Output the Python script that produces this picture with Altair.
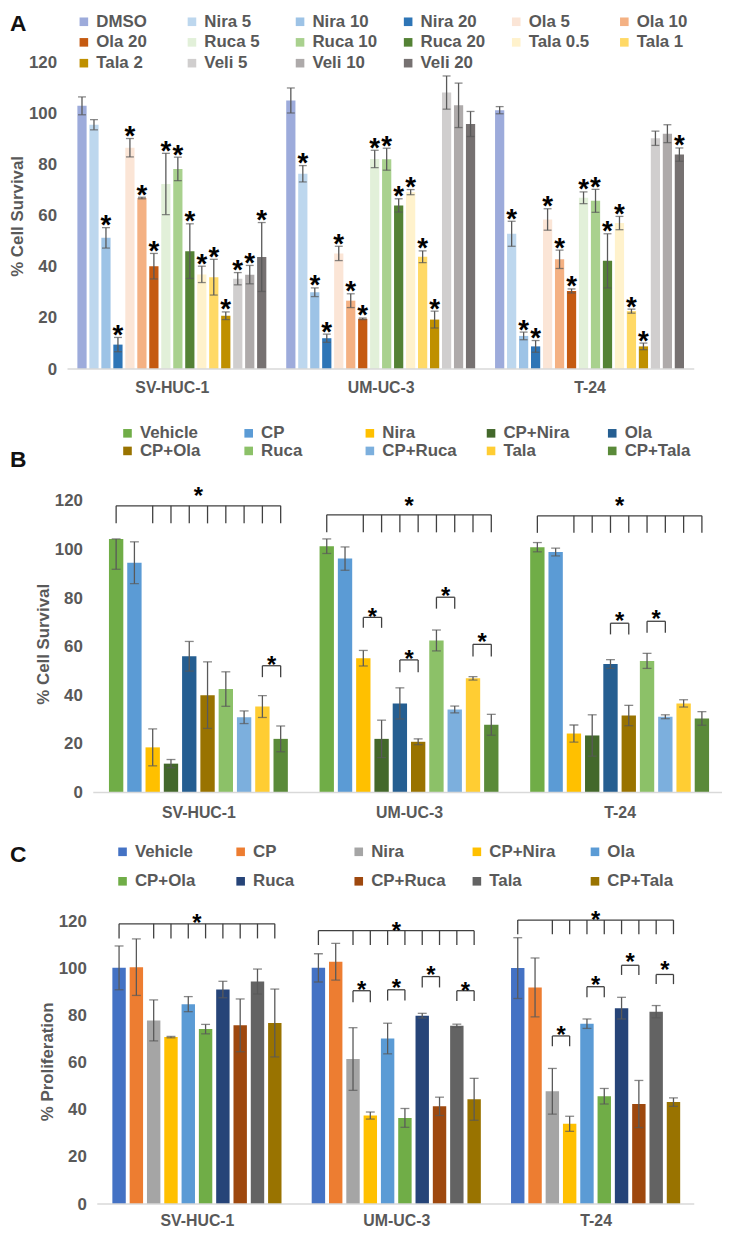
import json
import altair as alt
import pandas as pd

FONT = "Liberation Sans"
TXT = "#595959"
ERR = "#595959"
BRK = "#404040"

groups = ["SV-HUC-1", "UM-UC-3", "T-24"]

# ---------------- Panel A ----------------
a_series = ["DMSO", "Nira 5", "Nira 10", "Nira 20", "Ola 5", "Ola 10", "Ola 20",
            "Ruca 5", "Ruca 10", "Ruca 20", "Tala 0.5", "Tala 1", "Tala 2",
            "Veli 5", "Veli 10", "Veli 20"]
a_colors = ["#9DABDB", "#BDD7EE", "#9DC3E6", "#2E75B6", "#FBE5D6", "#F4B183", "#C55A11",
            "#E2F0D9", "#A9D18E", "#548235", "#FFF2CC", "#FFD966", "#BF9000",
            "#D0CECE", "#AEAAAA", "#767171"]
a_sv = [103.1, 95.7, 51.4, 9.6, 86.7, 67.0, 40.3, 72.5, 78.4, 46.2, 37.1, 36.0, 20.9, 35.4, 37.0, 43.9]
a_sv_err = [3.5, 2.0, 4.0, 2.8, 3.6, 0.3, 5.0, 12.0, 4.6, 10.7, 3.2, 7.0, 1.5, 2.4, 3.6, 13.5]
a_um = [105.2, 76.5, 30.1, 12.1, 45.3, 26.8, 19.7, 82.3, 82.2, 64.1, 69.3, 44.0, 19.4, 108.3, 103.3, 96.0]
a_um_err = [4.9, 3.2, 1.7, 1.6, 2.8, 2.7, 0.3, 3.4, 4.3, 2.6, 1.0, 2.3, 3.3, 6.5, 8.7, 4.9]
a_t24 = [101.4, 53.0, 13.0, 8.9, 58.6, 43.0, 30.6, 67.1, 65.9, 42.4, 57.2, 22.7, 8.9, 90.4, 92.2, 84.0]
a_t24_err = [1.4, 4.9, 1.5, 2.3, 4.2, 3.6, 0.8, 2.3, 4.5, 10.6, 2.6, 0.8, 1.3, 2.8, 3.5, 2.6]
a_sig_sv = [0, 0, 1, 1, 1, 1, 1, 1, 1, 1, 1, 1, 1, 1, 1, 1]
a_sig_um = [0, 1, 1, 1, 1, 1, 1, 1, 1, 1, 1, 1, 1, 0, 0, 0]
a_sig_t24 = [0, 1, 1, 1, 1, 1, 1, 1, 1, 1, 1, 1, 1, 0, 0, 1]

# ---------------- Panel B ----------------
b_series = ["Vehicle", "CP", "Nira", "CP+Nira", "Ola", "CP+Ola", "Ruca", "CP+Ruca", "Tala", "CP+Tala"]
b_colors = ["#70AD47", "#5B9BD5", "#FFC000", "#43682B", "#255E91", "#997300",
            "#8CC168", "#7CAFDD", "#FFCD33", "#5A8A39"]
b_sv = [104.4, 94.6, 18.6, 11.9, 56.1, 40.1, 42.6, 31.0, 35.4, 22.1]
b_sv_err_lo = [12.5, 8.6, 7.6, 1.7, 6.1, 13.7, 7.1, 2.6, 4.5, 5.3]
b_sv_err_hi = [0.0, 8.6, 7.6, 1.7, 6.1, 13.7, 7.1, 2.6, 4.5, 5.3]
b_um = [101.4, 96.3, 55.3, 22.1, 36.7, 20.9, 62.6, 34.2, 47.0, 27.9]
b_um_err = [3.0, 4.8, 3.2, 7.7, 6.4, 1.2, 4.3, 1.4, 0.7, 4.3]
b_t24 = [101.0, 99.0, 24.3, 23.5, 52.9, 31.7, 54.2, 31.2, 36.7, 30.5]
b_t24_err = [1.9, 1.6, 3.5, 8.5, 1.8, 4.2, 3.1, 0.8, 1.5, 2.8]
# main brackets: group, top, leg end, star
b_main = [(0, 118.0, 110.8, 124.5), (1, 114.3, 107.1, 120.3), (2, 113.9, 106.9, 120.4)]
# pair brackets: group, first bar, second bar, top, leg end, star
b_pairs = [(0, 8, 9, 52.2, 47.5, 54.9),
           (1, 2, 3, 72.1, 67.8, 74.6), (1, 4, 5, 54.6, 49.5, 57.2),
           (1, 6, 7, 80.4, 75.7, 83.4), (1, 8, 9, 61.0, 56.0, 64.4),
           (2, 4, 5, 69.7, 65.1, 73.2), (2, 6, 7, 70.5, 65.8, 73.9)]

# ---------------- Panel C ----------------
c_series = ["Vehicle", "CP", "Nira", "CP+Nira", "Ola", "CP+Ola", "Ruca", "CP+Ruca", "Tala", "CP+Tala"]
c_colors = ["#4472C4", "#ED7D31", "#A5A5A5", "#FFC000", "#5B9BD5", "#70AD47",
            "#264478", "#9E480E", "#636363", "#997300"]
c_sv = [100.3, 100.6, 78.0, 70.9, 84.9, 74.3, 91.1, 75.9, 94.5, 76.9]
c_sv_err = [9.3, 12.0, 8.7, 0.3, 3.2, 2.0, 3.5, 11.2, 5.3, 14.4]
c_um = [100.3, 102.9, 61.6, 37.6, 70.3, 36.6, 80.0, 41.5, 75.7, 44.5]
c_um_err = [6.0, 7.8, 13.3, 1.5, 6.5, 4.0, 1.0, 3.9, 0.7, 8.9]
c_t24 = [100.2, 92.0, 47.9, 34.1, 76.6, 45.8, 83.2, 42.5, 81.7, 43.3]
c_t24_err = [12.9, 12.5, 9.7, 3.2, 2.0, 3.3, 4.6, 10.0, 2.6, 1.8]
c_main = [(0, 119.0, 112.8, 122.0), (1, 116.1, 110.0, 118.4), (2, 120.6, 114.6, 123.2)]
c_pairs = [(1, 2, 3, 90.6, 85.7, 93.4), (1, 4, 5, 91.0, 86.4, 94.1),
           (1, 6, 7, 96.6, 92.0, 99.6), (1, 8, 9, 90.6, 86.2, 93.1),
           (2, 2, 3, 71.4, 67.0, 74.2), (2, 4, 5, 92.3, 87.8, 95.4),
           (2, 6, 7, 101.4, 97.3, 105.2), (2, 8, 9, 97.5, 93.4, 101.7)]


def build_panel(series, colors, vals, lo_err, hi_err, sig, stride, bar_w, xdom, base_dom,
                width, height, ydom, yoff, ytitle, letter, letter_xy, leg, main_br, pair_br,
                star_fs, star_dy, br_fs, br_dy, cap, xpad):
    n = len(series)
    rows = []
    for g, gname in enumerate(groups):
        for s, sname in enumerate(series):
            pos = g * stride + s
            v = vals[g][s]
            rows.append(dict(group=gname, series=sname, pos=pos,
                             x0=pos - bar_w / 2, x1=pos + bar_w / 2, value=v,
                             lo=v - lo_err[g][s], hi=v + hi_err[g][s],
                             sig=(sig[g][s] if sig else 0)))
    df = pd.DataFrame(rows)

    xs = alt.Scale(domain=xdom, nice=False, zero=False)
    ys = alt.Scale(domain=ydom, nice=False, zero=False)
    centers = [g * stride + (n - 1) / 2 for g in range(len(groups))]
    xaxis = alt.Axis(values=centers,
                     labelExpr=f"{json.dumps(groups)}[round((datum.value - {centers[0]}) / {stride})]",
                     domain=False, ticks=False, grid=False, title=None,
                     labelFontSize=16, labelFontWeight="bold", labelColor=TXT,
                     labelPadding=xpad, labelFlush=False, labelOverlap=False)
    yaxis = alt.Axis(values=[0, 20, 40, 60, 80, 100, 120], grid=False, domain=False, ticks=False,
                     labelFontSize=17, labelFontWeight="bold", labelColor=TXT, labelPadding=11,
                     title=ytitle, titleFontSize=17, titleFontWeight="bold", titleColor=TXT,
                     titlePadding=2, offset=yoff)

    def X(field, **kw):
        return alt.X(field, scale=xs, axis=xaxis, **kw)

    def Y(field, **kw):
        return alt.Y(field, scale=ys, axis=yaxis, **kw)

    legend = alt.Legend(title=None, orient="none", legendX=leg["x"], legendY=leg["y"],
                        direction="horizontal", columns=leg["cols"], symbolType="square",
                        symbolSize=75, symbolStrokeWidth=0, labelFontSize=17,
                        labelFontWeight="bold", labelColor=TXT, labelFont=FONT,
                        columnPadding=leg["colpad"], rowPadding=leg["rowpad"], gridAlign="all",
                        labelLimit=300, labelOffset=4, padding=0)

    bars = alt.Chart(df).mark_bar().encode(
        x=X("x0:Q"), x2="x1:Q", y=Y("value:Q"), y2=alt.datum(0),
        color=alt.Color("series:N", scale=alt.Scale(domain=series, range=colors), legend=legend),
    )
    base = alt.Chart(pd.DataFrame({"b0": [base_dom[0]], "b1": [base_dom[1]], "y": [0]})).mark_rule(
        color="#D9D9D9", strokeWidth=1.5).encode(x=X("b0:Q"), x2="b1:Q", y=Y("y:Q"))
    err = alt.Chart(df).mark_rule(color=ERR, strokeWidth=1.3).encode(
        x=X("pos:Q"), y=Y("lo:Q"), y2="hi:Q")
    cap_lo = alt.Chart(df).mark_tick(orient="horizontal", color=ERR, size=cap, thickness=1.3).encode(
        x=X("pos:Q"), y=Y("lo:Q"))
    cap_hi = alt.Chart(df).mark_tick(orient="horizontal", color=ERR, size=cap, thickness=1.3).encode(
        x=X("pos:Q"), y=Y("hi:Q"))
    layers = [bars, base, err, cap_lo, cap_hi]

    if sig:
        stars = alt.Chart(df).transform_filter("datum.sig == 1").mark_text(
            text="*", fontSize=star_fs, fontWeight="bold", color="black",
            baseline="alphabetic", dy=star_dy).encode(x=X("pos:Q"), y=Y("hi:Q"))
        layers.append(stars)

    if main_br or pair_br:
        hrows, lrows, srows = [], [], []
        for (g, top, legv, st) in main_br:
            first, last = g * stride, g * stride + n - 1
            hrows.append(dict(h0=first, h1=last, y=top))
            for k in [0] + list(range(2, n)):
                lrows.append(dict(p=g * stride + k, top=top, leg=legv))
            srows.append(dict(c=(first + last) / 2, y=st))
        for (g, i, j, top, legv, st) in pair_br:
            a, b = g * stride + i, g * stride + j
            hrows.append(dict(h0=a, h1=b, y=top))
            lrows.append(dict(p=a, top=top, leg=legv))
            lrows.append(dict(p=b, top=top, leg=legv))
            srows.append(dict(c=(a + b) / 2, y=st))
        h = alt.Chart(pd.DataFrame(hrows)).mark_rule(color=BRK, strokeWidth=1.3).encode(
            x=X("h0:Q"), x2="h1:Q", y=Y("y:Q"))
        l = alt.Chart(pd.DataFrame(lrows)).mark_rule(color=BRK, strokeWidth=1.3).encode(
            x=X("p:Q"), y=Y("top:Q"), y2="leg:Q")
        s = alt.Chart(pd.DataFrame(srows)).mark_text(
            text="*", fontSize=br_fs, fontWeight="bold", color="black",
            baseline="alphabetic", dy=br_dy).encode(x=X("c:Q"), y=Y("y:Q"))
        layers += [h, l, s]

    lt = alt.Chart(pd.DataFrame({"t": [letter]})).mark_text(
        fontSize=23, fontWeight="bold", color="#111111", align="left", baseline="alphabetic").encode(
        text="t:N", x=alt.value(letter_xy[0]), y=alt.value(letter_xy[1]))
    layers.append(lt)

    return alt.layer(*layers).properties(width=width, height=height)


pa = build_panel(
    a_series, a_colors, [a_sv, a_um, a_t24], [a_sv_err, a_um_err, a_t24_err],
    [a_sv_err, a_um_err, a_t24_err], [a_sig_sv, a_sig_um, a_sig_t24],
    stride=17.43, bar_w=0.77, xdom=[-1.21, 51.1], base_dom=[-1.21, 51.1],
    width=632, height=309, ydom=[0, 120], yoff=0, ytitle="% Cell Survival",
    letter="A", letter_xy=(-58, -32),
    leg=dict(x=8, y=-50, cols=6, colpad=22, rowpad=3),
    main_br=[], pair_br=[], star_fs=28, star_dy=6.5, br_fs=24, br_dy=14, cap=8, xpad=11)

pb = build_panel(
    b_series, b_colors, [b_sv, b_um, b_t24], [b_sv_err_lo, b_um_err, b_t24_err],
    [b_sv_err_hi, b_um_err, b_t24_err], None,
    stride=11.52, bar_w=0.785, xdom=[-2.66, 33.14], base_dom=[-1.25, 33.14],
    width=660, height=300, ydom=[0, 122.45], yoff=-26, ytitle="% Cell Survival",
    letter="B", letter_xy=(-58, -28),
    leg=dict(x=52, y=-71, cols=5, colpad=25.2, rowpad=0),
    main_br=b_main, pair_br=b_pairs, star_fs=28, star_dy=6.5, br_fs=24, br_dy=14, cap=9, xpad=12)

pc = build_panel(
    c_series, c_colors, [c_sv, c_um, c_t24], [c_sv_err, c_um_err, c_t24_err],
    [c_sv_err, c_um_err, c_t24_err], None,
    stride=11.52, bar_w=0.775, xdom=[-2.98, 33.24], base_dom=[-1.26, 33.24],
    width=632, height=288, ydom=[0, 121.26], yoff=-30, ytitle="% Proliferation",
    letter="C", letter_xy=(-58, -57),
    leg=dict(x=47, y=-76, cols=5, colpad=22.1, rowpad=12),
    main_br=c_main, pair_br=c_pairs, star_fs=28, star_dy=6.5, br_fs=24, br_dy=14, cap=9, xpad=9)

chart = alt.vconcat(pa, pb, pc, spacing=127, bounds="flush").resolve_scale(
    x="independent", y="independent", color="independent"
).properties(
    padding={"left": 0, "top": 0, "right": 0, "bottom": 0}
).configure(font=FONT).configure_view(stroke=None)

chart.save("out.html", embed_options={"renderer": "svg", "actions": False})
